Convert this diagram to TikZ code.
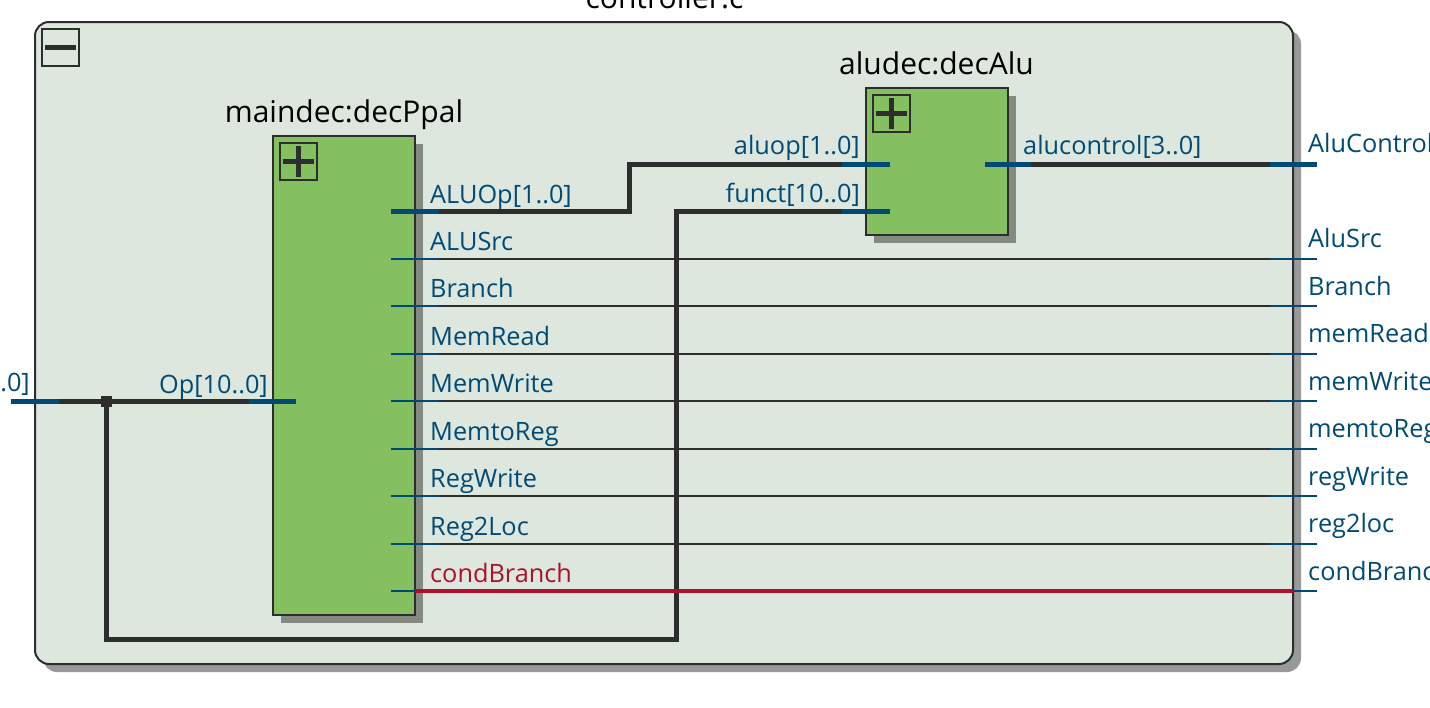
\documentclass[tikz,border=0pt]{standalone}
\usepackage{fontspec}
\setmainfont{Open Sans}
\usepackage{xcolor}
\usetikzlibrary{shadows}
\definecolor{panelbg}{HTML}{DDE7DE}
\definecolor{blockgreen}{HTML}{84C060}
\definecolor{wiredark}{HTML}{2D2D2D}
\definecolor{pinblue}{HTML}{004A75}
\definecolor{alertred}{HTML}{AE0F2C}
\definecolor{outershadow}{HTML}{999999}
\definecolor{innershadow}{HTML}{848A80}

\begin{document}
\begin{tikzpicture}[
    x=1pt, y=-1pt,
    panel/.style={
        rectangle, rounded corners=14pt, draw=wiredark, line width=2pt,
        fill=panelbg, minimum width=1258pt, minimum height=642pt,
        drop shadow={shadow xshift=8pt, shadow yshift=-8pt, fill=outershadow, opacity=1}
    },
    block/.style={
        rectangle, draw=wiredark, line width=2pt, fill=blockgreen,
        minimum width=142pt,
        drop shadow={shadow xshift=8pt, shadow yshift=-8pt, fill=innershadow, opacity=1}
    },
    iconbox/.style={rectangle, draw=wiredark, line width=1.6pt, minimum size=37pt, inner sep=0pt},
    iconbar/.style={wiredark, line width=5pt},
    title/.style={font=\fontsize{30}{34}\selectfont, text=black, anchor=base, inner sep=0pt},
    pinlabel/.style={font=\fontsize{25.3}{29}\selectfont, text=pinblue, anchor=base west, inner sep=0pt},
    pinlabelr/.style={pinlabel, anchor=base east},
    bus/.style={wiredark, line width=5pt},
    wire/.style={wiredark, line width=2pt},
    busstub/.style={pinblue, line width=5pt},
    wirestub/.style={pinblue, line width=2pt},
    redwire/.style={alertred, line width=4pt}
]
\useasboundingbox (0,0) rectangle (1430,707);

% panel and blocks
\node[panel] (ctrl) at (664,343) {};
\node[title] (ctrlname) at (664.5,8) {controller:c};
\node[iconbox] (ctrlicon) at (60.5,47.5) {};
\draw[iconbar] (ctrlicon.center) ++(-15.5,0) -- ++(31,0);

\node[block, minimum height=479pt] (main) at (344,375.5) {};
\node[title] (mainname) at (344,122) {maindec:decPpal};
\node[iconbox] (mainicon) at (298.5,161.5) {};
\draw[iconbar] (mainicon.center) ++(-15.5,0) -- ++(31,0);
\draw[iconbar] (mainicon.center) ++(0,-15.5) -- ++(0,31);

\node[block, minimum height=147pt] (dec) at (937,161.5) {};
\node[title] (decname) at (936.5,74) {aludec:decAlu};
\node[iconbox] (decicon) at (891.5,113.5) {};
\draw[iconbar] (decicon.center) ++(-15.5,0) -- ++(31,0);
\draw[iconbar] (decicon.center) ++(0,-15.5) -- ++(0,31);

% pins
\coordinate (opin) at (11,401);
\coordinate (opjoin) at (106.5,401);
\coordinate (opmain) at (296,401);
\coordinate (opbend) at (106.5,639);
\coordinate (functbend) at (676.5,639);
\coordinate (functup) at (676.5,211);
\coordinate (functdec) at (890,211);
\coordinate (aluopmain) at (391,211);
\coordinate (aluopa) at (629.5,211);
\coordinate (aluopb) at (629.5,164);
\coordinate (aluopdec) at (890,164);
\coordinate (ctlmain) at (985,164);
\coordinate (ctlout) at (1317,164);
\coordinate (srcmain) at (391,259);
\coordinate (srcout) at (1317,259);
\coordinate (brmain) at (391,306);
\coordinate (brout) at (1317,306);
\coordinate (rdmain) at (391,354);
\coordinate (rdout) at (1317,354);
\coordinate (wrmain) at (391,401);
\coordinate (wrout) at (1317,401);
\coordinate (tomain) at (391,449);
\coordinate (toout) at (1317,449);
\coordinate (rwmain) at (391,496);
\coordinate (rwout) at (1317,496);
\coordinate (locmain) at (391,544);
\coordinate (locout) at (1317,544);
\coordinate (condmain) at (391,591);
\coordinate (condedge) at (415,591);
\coordinate (condred) at (1293,591);
\coordinate (condout) at (1317,591);

% buses
\draw[bus] (opin) -- (opmain);
\draw[bus, line join=miter] (opjoin) -- (opbend) -- (functbend) -- (functup) -- (functdec);
\draw[bus, line join=miter] (aluopmain) -- (aluopa) -- (aluopb) -- (aluopdec);
\draw[bus] (ctlmain) -- (ctlout);
\node[fill=wiredark, inner sep=0pt, minimum size=11pt] (opdot) at (opjoin) {};

% single wires
\draw[wire] (srcmain) -- (srcout);
\draw[wire] (brmain) -- (brout);
\draw[wire] (rdmain) -- (rdout);
\draw[wire] (wrmain) -- (wrout);
\draw[wire] (tomain) -- (toout);
\draw[wire] (rwmain) -- (rwout);
\draw[wire] (locmain) -- (locout);
\draw[redwire] (condedge) -- (condred);

% blue ends
\draw[busstub] (opin) -- ++(48,0);
\draw[busstub] (opmain) -- ++(-47,0);
\draw[busstub] (aluopmain) -- ++(48,0);
\draw[busstub] (aluopdec) -- ++(-48,0);
\draw[busstub] (functdec) -- ++(-48,0);
\draw[busstub] (ctlmain) -- ++(46,0);
\draw[busstub] (ctlout) -- ++(-47,0);
\draw[wirestub] (srcmain) -- ++(48,0);
\draw[wirestub] (srcout) -- ++(-47,0);
\draw[wirestub] (brmain) -- ++(48,0);
\draw[wirestub] (brout) -- ++(-47,0);
\draw[wirestub] (rdmain) -- ++(48,0);
\draw[wirestub] (rdout) -- ++(-47,0);
\draw[wirestub] (wrmain) -- ++(48,0);
\draw[wirestub] (wrout) -- ++(-47,0);
\draw[wirestub] (tomain) -- ++(48,0);
\draw[wirestub] (toout) -- ++(-47,0);
\draw[wirestub] (rwmain) -- ++(48,0);
\draw[wirestub] (rwout) -- ++(-47,0);
\draw[wirestub] (locmain) -- ++(48,0);
\draw[wirestub] (locout) -- ++(-47,0);
\draw[wirestub] (condmain) -- (condedge);
\draw[wirestub] (condred) -- (condout);

% labels inside
\node[pinlabelr] (oplabel) at (268,393) {Op[10..0]};
\node[pinlabelr] (inlabel) at (30,391) {.0]};
\node[pinlabel] (aluoplabel) at (430,203) {ALUOp[1..0]};
\node[pinlabel] (srclabel) at (430,250) {ALUSrc};
\node[pinlabel] (brlabel) at (430,297) {Branch};
\node[pinlabel] (rdlabel) at (430,345) {MemRead};
\node[pinlabel] (wrlabel) at (430,392) {MemWrite};
\node[pinlabel] (tolabel) at (430,440) {MemtoReg};
\node[pinlabel] (rwlabel) at (430,487) {RegWrite};
\node[pinlabel] (loclabel) at (430,535) {Reg2Loc};
\node[pinlabel, text=alertred] (condlabel) at (430,582) {condBranch};
\node[pinlabelr] (opdeclabel) at (860,154) {aluop[1..0]};
\node[pinlabelr] (functlabel) at (860,202) {funct[10..0]};
\node[pinlabel] (ctllabel) at (1023,154) {alucontrol[3..0]};

% labels outside
\node[pinlabel] (ctloutlabel) at (1308,152) {AluControl};
\node[pinlabel] (srcoutlabel) at (1308,247) {AluSrc};
\node[pinlabel] (broutlabel) at (1308,295) {Branch};
\node[pinlabel] (rdoutlabel) at (1308,342) {memRead};
\node[pinlabel] (wroutlabel) at (1308,390) {memWrite};
\node[pinlabel] (tooutlabel) at (1308,437) {memtoReg};
\node[pinlabel] (rwoutlabel) at (1308,485) {regWrite};
\node[pinlabel] (locoutlabel) at (1308,532) {reg2loc};
\node[pinlabel] (condoutlabel) at (1308,580) {condBranch};

\end{tikzpicture}
\end{document}
